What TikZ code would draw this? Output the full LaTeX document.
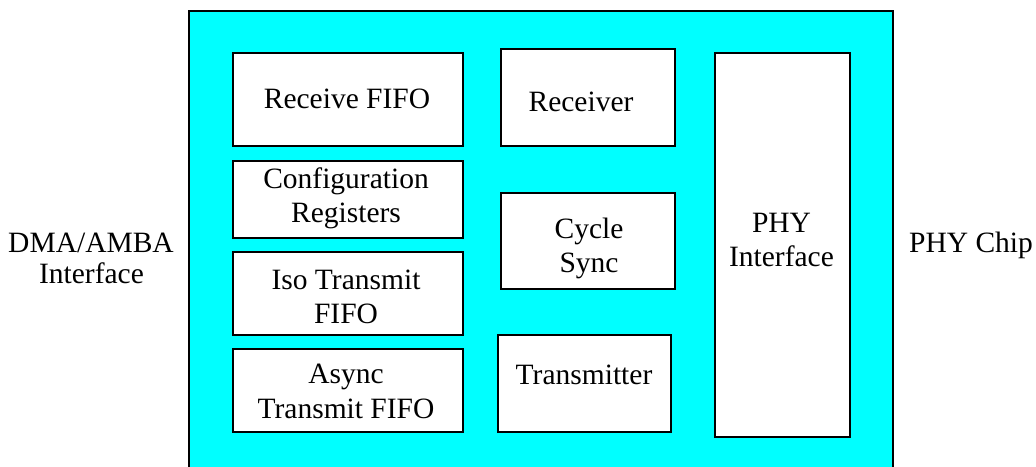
\documentclass[tikz,border=0pt]{standalone}
\usepackage{fontspec}
\IfFontExistsTF{Liberation Serif}{\newfontfamily\tms{Liberation Serif}}{\IfFontExistsTF{TeX Gyre Termes}{\newfontfamily\tms{TeX Gyre Termes}}{\def\tms{\rmfamily}}}
\definecolor{bgcyan}{HTML}{00FFFF}
\begin{document}
\begin{tikzpicture}[x=1pt,y=-1pt,
  blk/.style={draw=black, fill=white, line width=1.8pt, inner sep=0pt, anchor=north west},
  lbl/.style={anchor=base, inner sep=0pt, font=\tms\fontsize{29.5}{34}\selectfont}]
\useasboundingbox (0,0) rectangle (1036,466);
\clip (0,0) rectangle (1036,466);
\node[blk, fill=bgcyan, line width=2.2pt, minimum width=704pt, minimum height=490pt] (outer) at (188,10) {};
% boxes
\node[blk, minimum width=230pt, minimum height=93pt] (rxfifo) at (232,52) {};
\node[blk, minimum width=230pt, minimum height=77pt] (cfg) at (232,160) {};
\node[blk, minimum width=230pt, minimum height=83pt] (iso) at (232,251) {};
\node[blk, minimum width=230pt, minimum height=83pt] (async) at (232,348) {};
\node[blk, minimum width=174pt, minimum height=97pt] (rcv) at (500,48) {};
\node[blk, minimum width=174pt, minimum height=96pt] (cyc) at (500,192) {};
\node[blk, minimum width=173pt, minimum height=97pt] (tx) at (497,334) {};
\node[blk, minimum width=135pt, minimum height=384pt] (phyif) at (714,52) {};
% labels
\node[lbl] (t1) at (347,108) {Receive FIFO};
\node[lbl] (t2) at (581,111) {Receiver};
\node[lbl] (t3a) at (346,188) {Configuration};
\node[lbl] (t3b) at (346,222) {Registers};
\node[lbl] (t4a) at (346,289) {Iso Transmit};
\node[lbl] (t4b) at (346,323) {FIFO};
\node[lbl] (t5a) at (346,383) {Async};
\node[lbl] (t5b) at (346,418) {Transmit FIFO};
\node[lbl] (t6a) at (589,238) {Cycle};
\node[lbl] (t6b) at (589,272) {Sync};
\node[lbl] (t7) at (584,384) {Transmitter};
\node[lbl] (t8a) at (781.5,232) {PHY};
\node[lbl] (t8b) at (781.5,266) {Interface};
\node[lbl] (t9) at (971,252) {PHY Chip};
\node[lbl] (t10a) at (91,252) {DMA/AMBA};
\node[lbl] (t10b) at (91.5,283) {Interface};
\end{tikzpicture}
\end{document}
